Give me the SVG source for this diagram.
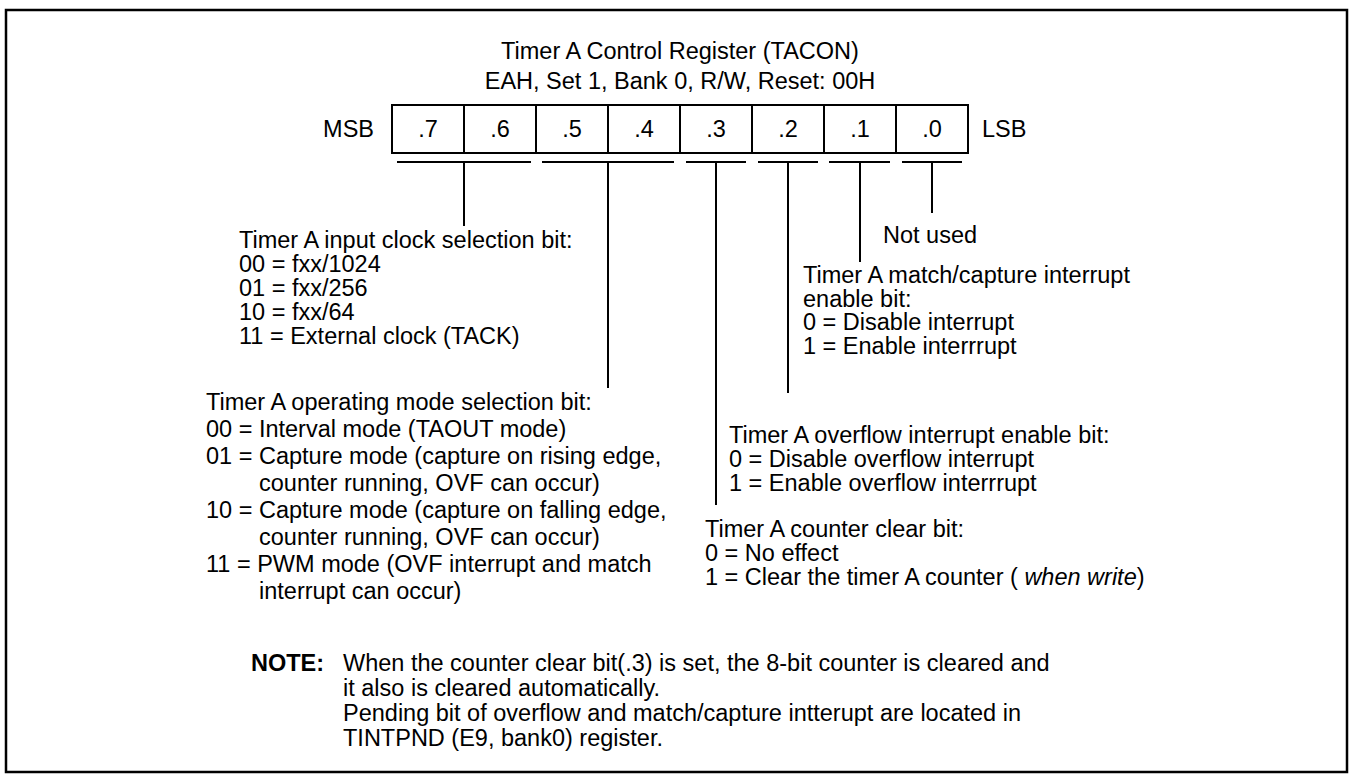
<svg xmlns="http://www.w3.org/2000/svg" width="1352" height="780" viewBox="0 0 1352 780">
<style>
text{font-family:"Liberation Sans",Arial,Helvetica,sans-serif;font-size:23.5px;fill:#000}
.c{text-anchor:middle}
.e{text-anchor:end}
.b{font-weight:bold}
.i{font-style:italic}
.ln{stroke:#000;stroke-width:2;fill:none}
.cell{stroke:#000;stroke-width:2;fill:#fff}
</style>
<rect x="6" y="10" width="1341" height="762" fill="#fff" stroke="#000" stroke-width="2.5"/>
<g id="title">
<text class="c" x="680" y="59">Timer A Control Register (TACON)</text>
<text class="c" x="680" y="89">EAH, Set 1, Bank 0, R/W, Reset: 00H</text>
</g>
<g id="register">
<text class="e" x="374" y="137">MSB</text>
<rect class="cell" x="392" y="105" width="576" height="48"/>
<path class="ln" d="M464 105V153M536 105V153M608 105V153M680 105V153M752 105V153M824 105V153M896 105V153"/>
<text class="c" x="428" y="137">.7</text>
<text class="c" x="500" y="137">.6</text>
<text class="c" x="572" y="137">.5</text>
<text class="c" x="644" y="137">.4</text>
<text class="c" x="716" y="137">.3</text>
<text class="c" x="788" y="137">.2</text>
<text class="c" x="860" y="137">.1</text>
<text class="c" x="932" y="137">.0</text>
<text x="982" y="137">LSB</text>
</g>
<g id="connectors">
<path class="ln" d="M397 162H531M542 162H674M686 162H746M758 162H818M829 162H890M902 162H962"/>
<path class="ln" d="M464 162V226M608 162V388M716 162V505M788 162V393M860 162V262M932 162V213"/>
</g>
<g id="bits76">
<text x="239" y="248">Timer A input clock selection bit:</text>
<text x="239" y="272">00 = fxx/1024</text>
<text x="239" y="296">01 = fxx/256</text>
<text x="239" y="320">10 = fxx/64</text>
<text x="239" y="344">11 = External clock (TACK)</text>
</g>
<g id="bits54">
<text x="206" y="410">Timer A operating mode selection bit:</text>
<text x="206" y="437">00 = Interval mode (TAOUT mode)</text>
<text x="206" y="464">01 = Capture mode (capture on rising edge,</text>
<text x="259" y="491">counter running, OVF can occur)</text>
<text x="206" y="518">10 = Capture mode (capture on falling edge,</text>
<text x="259" y="545">counter running, OVF can occur)</text>
<text x="206" y="572">11 = PWM mode (OVF interrupt and match</text>
<text x="259" y="599">interrupt can occur)</text>
</g>
<g id="bit3">
<text x="705" y="537">Timer A counter clear bit:</text>
<text x="705" y="561">0 = No effect</text>
<text x="705" y="585">1 = Clear the timer A counter ( <tspan class="i">when write</tspan>)</text>
</g>
<g id="bit2">
<text x="729" y="443">Timer A overflow interrupt enable bit:</text>
<text x="729" y="467">0 = Disable overflow interrupt</text>
<text x="729" y="491">1 = Enable overflow interrrupt</text>
</g>
<g id="bit1">
<text x="803" y="283">Timer A match/capture interrupt</text>
<text x="803" y="306.5">enable bit:</text>
<text x="803" y="330">0 = Disable interrupt</text>
<text x="803" y="353.5">1 = Enable interrrupt</text>
</g>
<g id="bit0">
<text x="883" y="243">Not used</text>
</g>
<g id="note">
<text class="b" x="251" y="671">NOTE:</text>
<text x="343" y="671">When the counter clear bit(.3) is set, the 8-bit counter is cleared and</text>
<text x="343" y="696">it also is cleared automatically.</text>
<text x="343" y="721">Pending bit of overflow and match/capture intterupt are located in</text>
<text x="343" y="746">TINTPND (E9, bank0) register.</text>
</g>
</svg>
